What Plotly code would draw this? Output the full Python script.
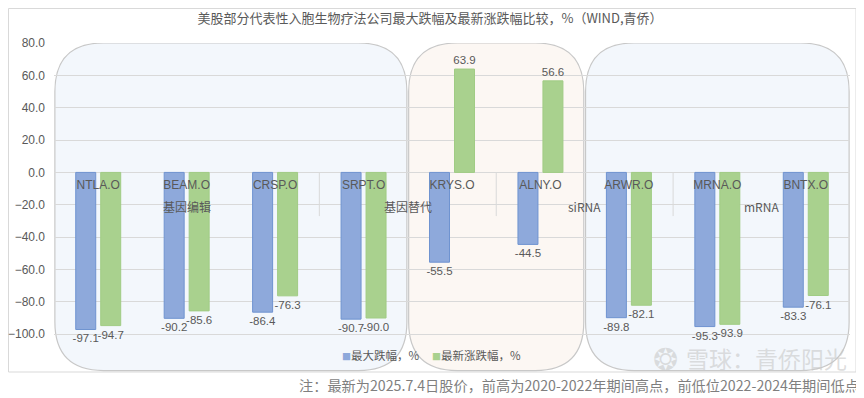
import plotly.graph_objects as go

# ---------------- data ----------------
categories = ['NTLA.O', 'BEAM.O', 'CRSP.O', 'SRPT.O', 'KRYS.O', 'ALNY.O', 'ARWR.O', 'MRNA.O', 'BNTX.O']
max_drawdown = [-97.1, -90.2, -86.4, -90.7, -55.5, -44.5, -89.8, -95.3, -83.3]
latest_change = [-94.7, -85.6, -76.3, -90.0, 63.9, 56.6, -82.1, -93.9, -76.1]
series_names = ['最大跌幅，%', '最新涨跌幅，%']
group_labels = ['基因编辑', '基因替代', 'siRNA', 'mRNA']
group_members = [[0, 1, 2], [3, 4], [5, 6], [7, 8]]
y_ticks = [80, 60, 40, 20, 0, -20, -40, -60, -80, -100]

title_text = '美股部分代表性入胞生物疗法公司最大跌幅及最新涨跌幅比较，%（WIND,青侨）'
note_text = '注：最新为2025.7.4日股价，前高为2020-2022年期间高点，前低位2022-2024年期间低点'

# ---------------- style ----------------
OFF = 8                      # page body margin offset
W, H = 864 - OFF, 398 - OFF
ML, MR, MT, MB = 54 - OFF, 14, 43 - OFF, 25
YMIN, YMAX = -124, 80
GRAY = '#595959'
BLUE, GREEN = '#8EA9DB', '#A9D18E'
FONT = 'Liberation Sans, Noto Sans CJK SC, sans-serif'
CJK = 'Noto Sans CJK SC, sans-serif'

xs = list(range(len(categories)))

fig = go.Figure()
fig.add_trace(go.Bar(
    x=xs, y=max_drawdown, name=series_names[0], showlegend=False,
    marker=dict(color=BLUE, line=dict(color='#6F93D0', width=1)),
    text=[f'{v:.1f}' for v in max_drawdown], textposition='outside', constraintext='none',
    textfont=dict(size=11.5, color=GRAY, family=FONT), cliponaxis=False,
))
fig.add_trace(go.Bar(
    x=xs, y=latest_change, name=series_names[1], showlegend=False,
    marker=dict(color=GREEN, line=dict(color='#A0CC84', width=1)),
    text=[f'{v:.1f}' for v in latest_change], textposition='outside', constraintext='none',
    textfont=dict(size=11.5, color=GRAY, family=FONT), cliponaxis=False,
))
# legend entries: a small coloured square placed right before the name (Excel style)
for nm, col, lg in zip(series_names, [BLUE, GREEN], ['legend', 'legend2']):
    fig.add_trace(go.Scatter(
        x=[None], y=[None], mode='markers', legend=lg,
        name=f'<span style="color:{col};font-size:9px">■</span>{nm}',
        marker=dict(symbol='square', size=7, color='rgba(0,0,0,0)')))

plot_w = W - ML - MR
plot_h = H - MT - MB
def px_to_paper_x(px):   # px in reference-image pixels
    return (px - OFF - ML) / plot_w
def px_to_paper_y(py):
    return (H - MB - (py - OFF)) / plot_h

def rounded_rect(x0, x1, y0, y1, rx, ry):
    return (f'M {x0+rx},{y1} L {x1-rx},{y1} Q {x1},{y1} {x1},{y1-ry} '
            f'L {x1},{y0+ry} Q {x1},{y0} {x1-rx},{y0} '
            f'L {x0+rx},{y0} Q {x0},{y0} {x0},{y0+ry} '
            f'L {x0},{y1-ry} Q {x0},{y1} {x0+rx},{y1} Z')

shapes = []
# outer chart border
shapes.append(dict(type='rect', xref='paper', yref='paper',
                   x0=px_to_paper_x(8.5), x1=px_to_paper_x(856),
                   y0=px_to_paper_y(372), y1=px_to_paper_y(8.5),
                   line=dict(color='#D9D9D9', width=1), fillcolor='rgba(0,0,0,0)', layer='below'))
# background rounded boxes
boxes = [(-0.5, 3.5, '#F3F7FC'), (3.5, 5.5, '#FCF7F3'), (5.5, 8.5, '#F3F7FC')]
for bx0, bx1, col in boxes:
    shapes.append(dict(type='path', xref='x', yref='y',
                       path=rounded_rect(bx0 + 0.01, bx1 - 0.01, -122.5, 80, 0.55, 30),
                       fillcolor=col, line=dict(color='#C8C8C8', width=1.2), layer='below'))
# category group dividers
for g in group_members[:-1]:
    xd = g[-1] + 0.5
    shapes.append(dict(type='line', xref='x', yref='y', x0=xd, x1=xd, y0=0, y1=-27,
                       line=dict(color='#D9D9D9', width=1)))

annotations = []
for lab, mem in zip(group_labels, group_members):
    annotations.append(dict(x=sum(mem) / len(mem), y=-21, xref='x', yref='y', text=lab,
                            showarrow=False, font=dict(size=12, color=GRAY, family=CJK)))
annotations.append(dict(x=px_to_paper_x(861), y=px_to_paper_y(385), xref='paper', yref='paper',
                        xanchor='right', yanchor='middle', text=note_text, showarrow=False,
                        font=dict(size=14.2, color='#7F7F7F', family=CJK)))
annotations.append(dict(x=px_to_paper_x(665), y=px_to_paper_y(357), xref='paper', yref='paper',
                        xanchor='center', yanchor='middle', text='❂', showarrow=False,
                        font=dict(size=30, color='rgba(200,200,200,0.6)', family=CJK)))
annotations.append(dict(x=px_to_paper_x(684), y=px_to_paper_y(358), xref='paper', yref='paper',
                        xanchor='left', yanchor='middle', text='雪球：青侨阳光', showarrow=False,
                        font=dict(size=23, color='rgba(200,200,200,0.6)', family=CJK)))

legend_common = dict(orientation='h', xanchor='left', yanchor='middle',
                     bgcolor='rgba(0,0,0,0)', itemwidth=30,
                     font=dict(size=11.5, color=GRAY, family=CJK))

fig.update_layout(
    width=W, height=H,
    margin=dict(l=ML, r=MR, t=MT, b=MB, pad=0, autoexpand=False),
    paper_bgcolor='white', plot_bgcolor='rgba(0,0,0,0)',
    title=dict(text=title_text, x=(430 - OFF) / W, xref='container', xanchor='center',
               y=1 - (18 - OFF) / H, yref='container', yanchor='middle',
               font=dict(size=13, color=GRAY, family=CJK)),
    barmode='group', bargap=0.435, bargroupgap=0.2,
    showlegend=True,
    legend=dict(x=px_to_paper_x(302), y=px_to_paper_y(355), **legend_common),
    legend2=dict(x=px_to_paper_x(392), y=px_to_paper_y(355), **legend_common),
    xaxis=dict(range=[-0.5, len(categories) - 0.5], tickvals=xs, ticktext=categories,
               showgrid=False, zeroline=False, showline=False, ticks='', automargin=False,
               anchor='free', position=(0 - YMIN) / (YMAX - YMIN), ticklabelstandoff=4,
               tickfont=dict(size=12, color=GRAY, family=FONT)),
    yaxis=dict(range=[YMIN, YMAX], tickvals=y_ticks, tickformat='.1f', automargin=False,
               showgrid=True, gridcolor='#D9D9D9', gridwidth=1, zeroline=False,
               showline=False, ticks='', ticklabelstandoff=8,
               tickfont=dict(size=12, color=GRAY, family=FONT)),
    shapes=shapes, annotations=annotations,
)

fig.write_html('out.html')
